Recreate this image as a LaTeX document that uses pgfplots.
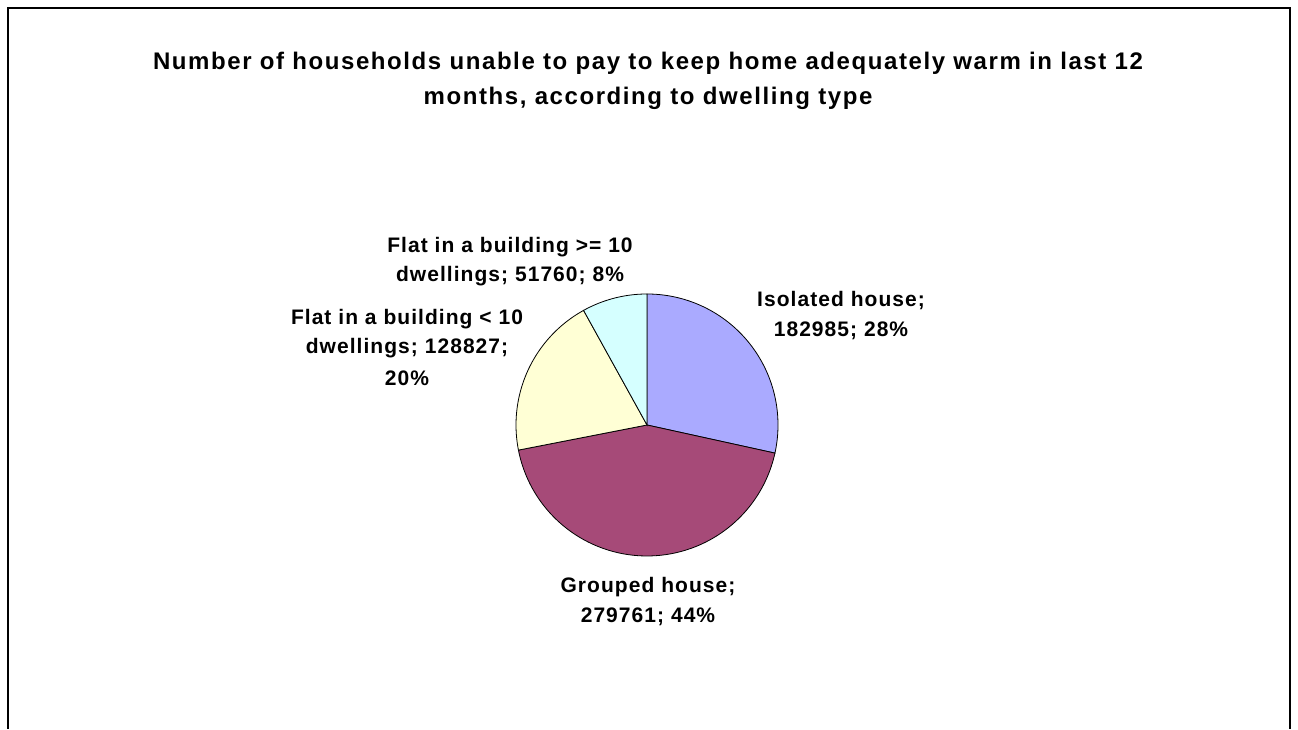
\documentclass[border=0pt]{standalone}
\usepackage{pgfplots}
\pgfplotsset{compat=1.18}
\usepackage{fontspec}
\setmainfont{Liberation Sans}
\newfontfamily\titlefont{Liberation Sans}[LetterSpace=6.6]
\newfontfamily\labfont{Liberation Sans}[LetterSpace=5]

\definecolor{cIso}{HTML}{AAAAFF}
\definecolor{cGrp}{HTML}{A64A78}
\definecolor{cLow}{HTML}{FFFFD5}
\definecolor{cHigh}{HTML}{D5FFFF}

% households per dwelling type
\def\vIso{182985}
\def\vGrp{279761}
\def\vLow{128827}
\def\vHigh{51760}
\edef\tot{\fpeval{\vIso+\vGrp+\vLow+\vHigh}}
% slice boundaries, clockwise from 12 o'clock
\edef\aA{\fpeval{90-360*\vIso/\tot}}
\edef\aB{\fpeval{\aA-360*\vGrp/\tot}}
\edef\aC{\fpeval{\aB-360*\vLow/\tot}}

\begin{document}
\begin{tikzpicture}
\begin{axis}[
    width=973.5pt, height=546.75pt, scale only axis,
    xmin=0, xmax=1298, ymin=0, ymax=729,
    hide axis, clip=false,
    every node/.style={inner sep=0pt, anchor=base},
]
\addplot[draw=none] coordinates {(0,0) (1298,729)};
% frame
\addplot[black, line width=1.5pt] coordinates {(8,0) (8,720.5) (1290,720.5) (1290,0)};

% slices
\addplot[fill=cIso, draw=black, line width=0.6pt, domain=\aA:90, samples=80]
  ({647+131*cos(x)},{304+131*sin(x)}) -- (647,304) -- cycle;
\addplot[fill=cGrp, draw=black, line width=0.6pt, domain=\aB:\aA, samples=100]
  ({647+131*cos(x)},{304+131*sin(x)}) -- (647,304) -- cycle;
\addplot[fill=cLow, draw=black, line width=0.6pt, domain=\aC:\aB, samples=60]
  ({647+131*cos(x)},{304+131*sin(x)}) -- (647,304) -- cycle;
\addplot[fill=cHigh, draw=black, line width=0.6pt, domain=-270:\aC, samples=30]
  ({647+131*cos(x)},{304+131*sin(x)}) -- (647,304) -- cycle;

% title
\node[font=\titlefont\bfseries\fontsize{18}{21}\selectfont] at (648,666)
  {Number of households unable to pay to keep home adequately warm in last 12};
\node[font=\titlefont\bfseries\fontsize{18}{21}\selectfont] at (648,631)
  {months, according to dwelling type};

% data labels
\begin{scope}[font=\labfont\bfseries\fontsize{15.75}{22}\selectfont]
\node at (841,428) {Isolated house;};
\node at (841,398) {182985; 28\%};
\node at (648,142) {Grouped house;};
\node at (648,112) {279761; 44\%};
\node at (407,410) {Flat in a building < 10};
\node at (407,381) {dwellings; 128827;};
\node at (407,351) {20\%};
\node at (510,482) {Flat in a building >= 10};
\node at (510,453) {dwellings; 51760; 8\%};
\end{scope}
\end{axis}
\end{tikzpicture}
\end{document}
